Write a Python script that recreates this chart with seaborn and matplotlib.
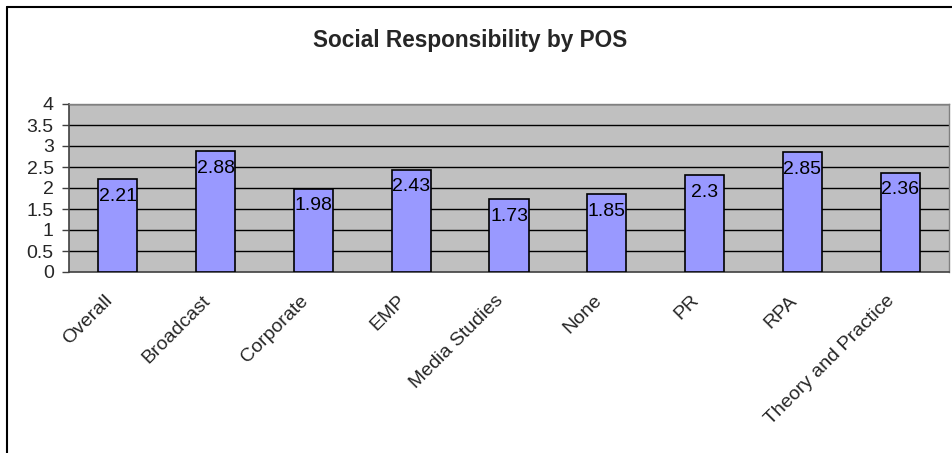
import matplotlib
matplotlib.use("Agg")
import matplotlib.pyplot as plt
import matplotlib.transforms as mtransforms
import seaborn as sns
import pandas as pd
from matplotlib.lines import Line2D

categories = ["Overall", "Broadcast", "Corporate", "EMP", "Media Studies",
              "None", "PR", "RPA", "Theory and Practice"]
values = [2.21, 2.88, 1.98, 2.43, 1.73, 1.85, 2.3, 2.85, 2.36]
value_labels = ["2.21", "2.88", "1.98", "2.43", "1.73", "1.85", "2.3", "2.85", "2.36"]
yticks = [0, 0.5, 1, 1.5, 2, 2.5, 3, 3.5, 4]
ytick_labels = ["0", "0.5", "1", "1.5", "2", "2.5", "3", "3.5", "4"]
title = "Social Responsibility by POS"

sns.set_style("white")
plt.rcParams["font.family"] = ["Liberation Sans", "DejaVu Sans"]

df = pd.DataFrame({"cat": categories, "val": values})

W, H = 952, 453
fig = plt.figure(figsize=(W / 100, H / 100), dpi=100)
ax = fig.add_axes([69 / W, 1 - 272 / H, 880 / W, 168 / H])
ax.set_facecolor("#C0C0C0")

sns.barplot(data=df, x="cat", y="val", ax=ax, color="#9999FF", width=0.4,
            edgecolor="black", linewidth=1.2, saturation=1, zorder=3)

ax.set_ylim(0, 4)
ax.set_xlim(-0.5, len(categories) - 0.5)
ax.set_yticks(yticks)
ax.set_yticklabels(ytick_labels, fontsize=14)
for y in yticks[1:]:
    ax.axhline(y, color="black", linewidth=1, zorder=1)

ax.set_xticks([i + 0.5 for i in range(-1, len(categories))], minor=True)
ax.set_xticks(range(len(categories)))
ax.set_xticklabels(categories, fontsize=14, rotation=45, ha="right",
                   va="top", rotation_mode="anchor")
ax.tick_params(axis="x", which="major", length=0, pad=8)
ax.tick_params(axis="x", which="minor", length=5, width=1, color="#404040", direction="out")
ax.tick_params(axis="y", length=5, width=1, color="#404040", direction="out", left=True, pad=6)
ax.set_xlabel("")
ax.set_ylabel("")

offset = mtransforms.ScaledTranslation(-14 / 100, -9 / 100, fig.dpi_scale_trans)
for lab in ax.get_xticklabels():
    lab.set_transform(lab.get_transform() + offset)

for side in ["top", "right"]:
    ax.spines[side].set_color("#808080")
    ax.spines[side].set_linewidth(1)
for side in ["left", "bottom"]:
    ax.spines[side].set_color("#404040")
    ax.spines[side].set_linewidth(1.2)

for i, (v, lab) in enumerate(zip(values, value_labels)):
    ax.annotate(lab, xy=(i, v), xytext=(0, -17), textcoords="offset pixels",
                ha="center", va="center", fontsize=14, color="black", zorder=4)

fig.text(470 / W, 1 - 40 / H, title, ha="center", va="center",
         fontsize=16.3, fontweight="bold")

fig.add_artist(Line2D([6.5 / W, 1.0], [1 - 7 / H, 1 - 7 / H], transform=fig.transFigure,
                      color="black", linewidth=1.5))
fig.add_artist(Line2D([6.5 / W, 6.5 / W], [0, 1 - 7 / H], transform=fig.transFigure,
                      color="black", linewidth=1.5))

fig.savefig("out.png", dpi=100)
